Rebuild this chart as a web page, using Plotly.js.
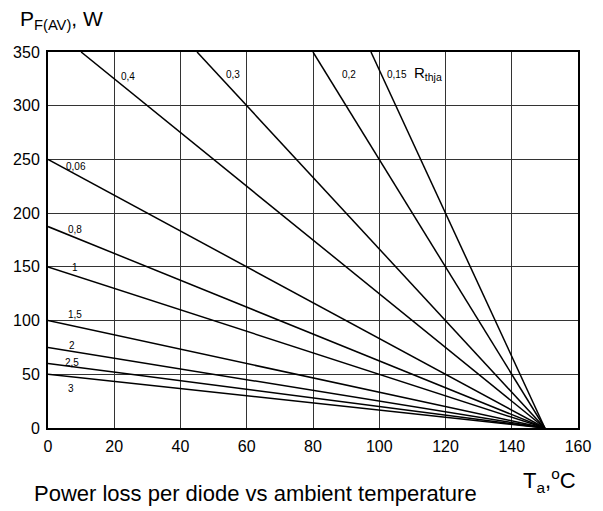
<!DOCTYPE html>
<html>
<head>
<meta charset="utf-8">
<script src="https://cdn.plot.ly/plotly-3.0.1.min.js"></script>
<style>html,body{margin:0;padding:0;background:#fff;}#chart{width:603px;height:511px;}</style>
</head>
<body>
<div id="chart"></div>
<script>
// Thermal resistance curves: each line runs from a start point to (150 °C, 0 W)
const rthLabels = ['0,4', '0,3', '0,2', '0,15', '0,06', '0,8', '1', '1,5', '2', '2,5', '3'];
const startTa = [10, 45, 80, 97.5, 0, 0, 0, 0, 0, 0, 0];
const startP = [350, 350, 350, 350, 250, 187.5, 150, 100, 75, 60, 50];
const endTa = 150;
const endP = 0;
const xTicks = [0, 20, 40, 60, 80, 100, 120, 140, 160];
const yTicks = [0, 50, 100, 150, 200, 250, 300, 350];

// label placement (data coords)
const labelX = [24, 55.7, 91, 105.3, 8.5, 8.3, 8.2, 8.3, 7.3, 7.3, 6.9];
const labelY = [327.5, 329, 329, 329, 243, 185, 149, 106, 77, 61, 37];

const traces = rthLabels.map((r, i) => ({
  x: [startTa[i], endTa],
  y: [startP[i], endP],
  mode: 'lines',
  line: {color: '#000', width: 1.5},
  hoverinfo: 'skip',
  showlegend: false
}));

const font = 'Liberation Sans, Arial, sans-serif';
const annotations = rthLabels.map((r, i) => ({
  x: labelX[i], y: labelY[i], xref: 'x', yref: 'y',
  text: r, showarrow: false,
  font: {family: font, size: 10, color: '#000'}
}));
annotations.push({
  x: 109.9, y: 330, xref: 'x', yref: 'y', xanchor: 'left',
  text: 'R<sub>thja</sub>', showarrow: false,
  font: {family: font, size: 15, color: '#000'}
});
annotations.push(
  {xref: 'paper', yref: 'paper', x: -0.057, y: 1.085, xanchor: 'left', yanchor: 'middle',
   text: 'P<sub>F(AV)</sub>, W', showarrow: false, font: {family: font, size: 21, color: '#000'}},
  {xref: 'paper', yref: 'paper', x: 0.893, y: -0.14, xanchor: 'left', yanchor: 'middle',
   text: 'T<sub>a</sub>,<sup>o</sup>C', showarrow: false, font: {family: font, size: 22, color: '#000'}},
  {xref: 'paper', yref: 'paper', x: -0.03, y: -0.175, xanchor: 'left', yanchor: 'middle',
   text: 'Power loss per diode vs ambient temperature', showarrow: false, font: {family: font, size: 22, color: '#000'}}
);

const layout = {
  width: 603, height: 511,
  margin: {l: 48, r: 25, t: 52, b: 83},
  paper_bgcolor: '#fff', plot_bgcolor: '#fff',
  font: {family: font, size: 16, color: '#000'},
  xaxis: {
    range: [0, 160], tickvals: xTicks, ticktext: xTicks.map(String),
    showgrid: true, gridcolor: '#333', gridwidth: 1,
    showline: true, linecolor: '#000', linewidth: 2, mirror: true,
    zeroline: false, ticks: '', ticklabelstandoff: 3, fixedrange: true
  },
  yaxis: {
    range: [0, 350], tickvals: yTicks, ticktext: yTicks.map(String),
    showgrid: true, gridcolor: '#333', gridwidth: 1,
    showline: true, linecolor: '#000', linewidth: 2, mirror: true,
    zeroline: false, ticks: '', ticklabelstandoff: 3, fixedrange: true
  },
  annotations: annotations
};

Plotly.newPlot('chart', traces, layout, {staticPlot: true, displayModeBar: false});
</script>
</body>
</html>
